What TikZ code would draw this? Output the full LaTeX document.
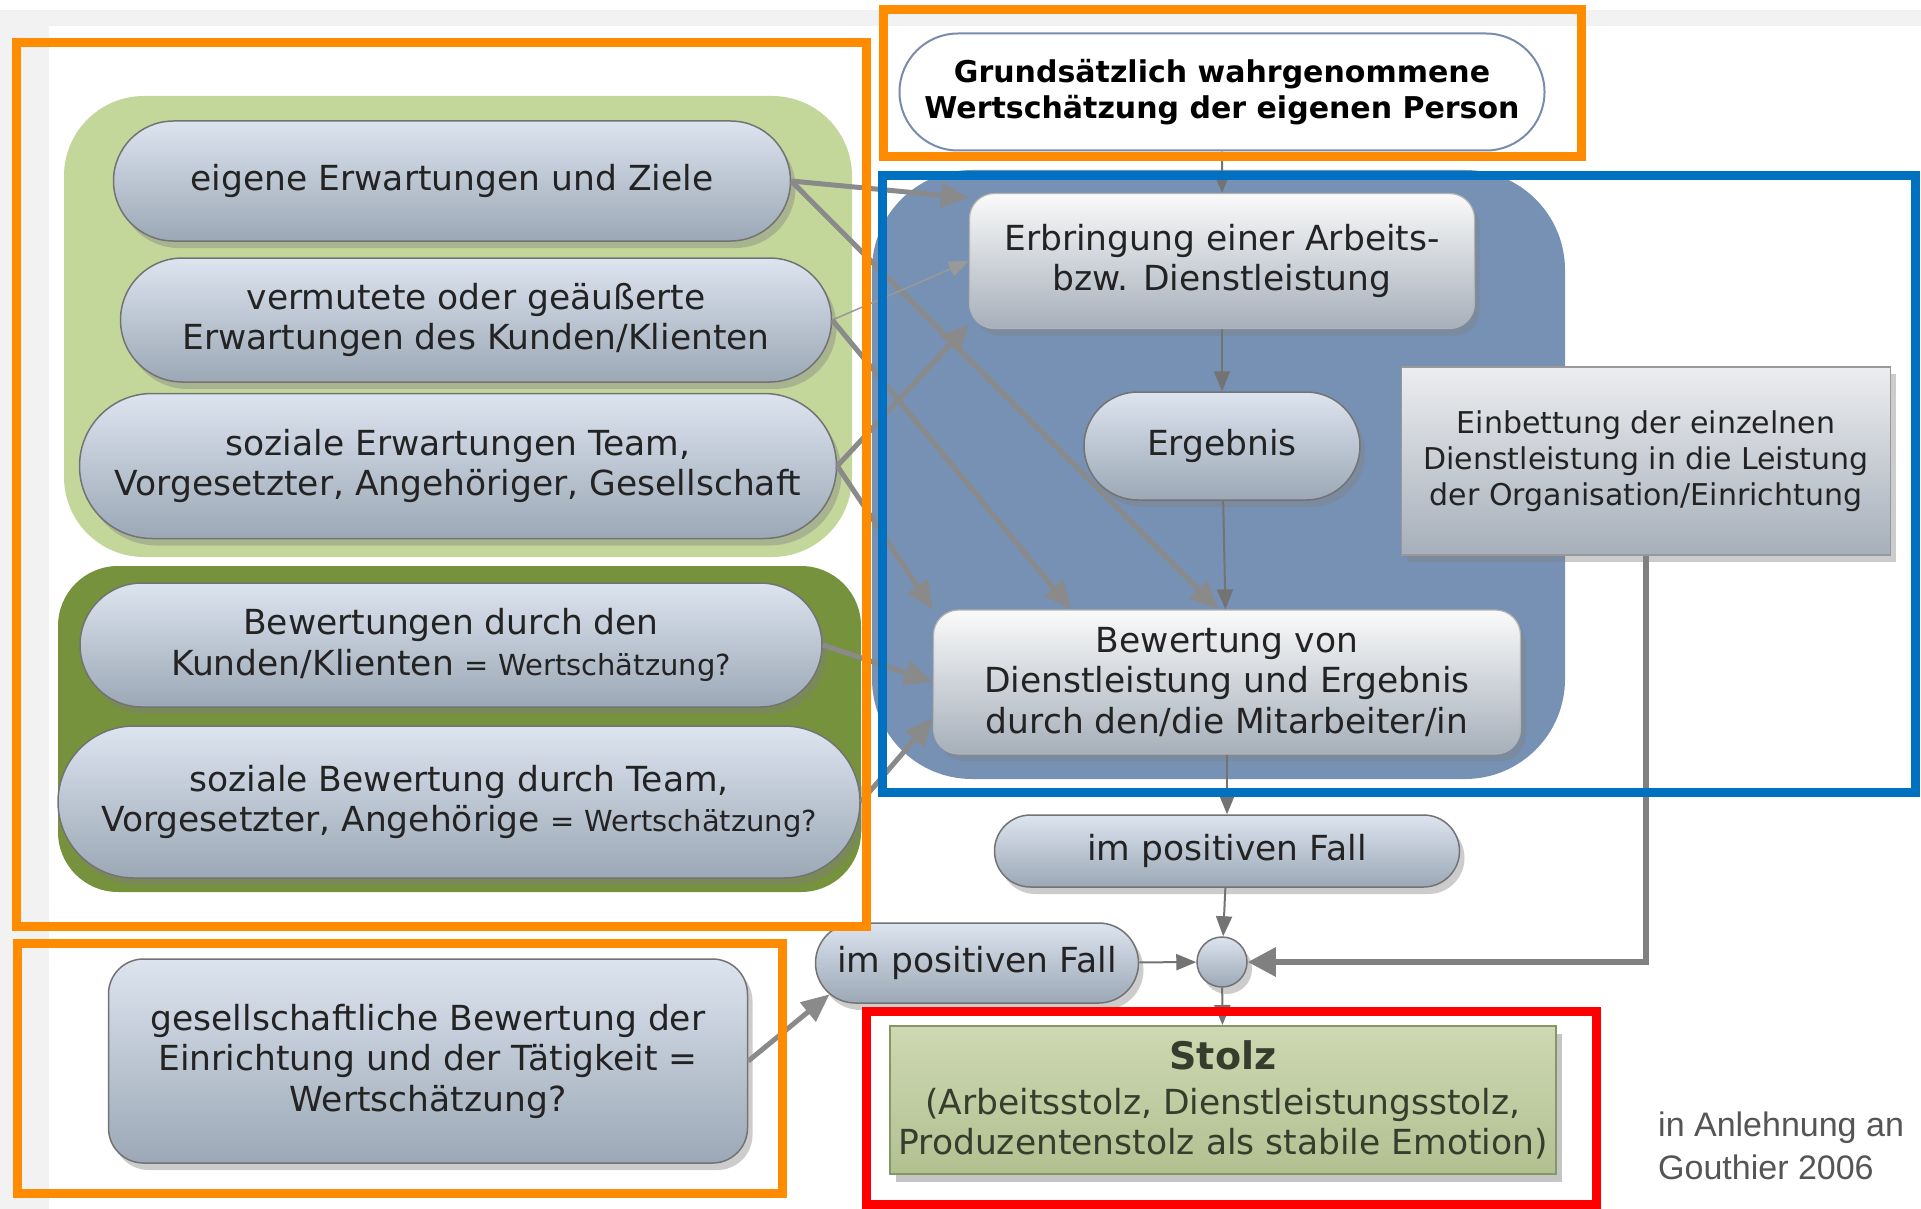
\documentclass[tikz,border=0pt]{standalone}
\usepackage{fontspec}
\setmainfont{DejaVu Sans}
\newfontfamily\srcfont{Liberation Sans}
\usetikzlibrary{shapes.misc,shadows,arrows.meta}

\definecolor{frameorange}{RGB}{255,140,0}
\definecolor{frameblue}{RGB}{0,112,192}
\definecolor{canvasgray}{RGB}{242,242,242}
\definecolor{lightgreen}{RGB}{196,215,155}
\definecolor{darkgreen}{RGB}{118,146,60}
\definecolor{steelbg}{RGB}{118,145,180}
\definecolor{pilltop}{RGB}{220,228,239}
\definecolor{pillbot}{RGB}{156,168,182}
\definecolor{boxtop}{RGB}{250,250,250}
\definecolor{boxbot}{RGB}{166,175,186}
\definecolor{stolztop}{RGB}{206,216,178}
\definecolor{stolzbot}{RGB}{178,192,145}
\definecolor{arrowgray}{RGB}{138,138,138}
\definecolor{txt}{RGB}{35,35,35}
\definecolor{srcgray}{RGB}{85,85,85}

\newcommand{\diagfont}{\fontsize{34.5}{40.5}\selectfont}
\newcommand{\queryfont}{\fontsize{29}{40.5}\selectfont}

\begin{document}
\begin{tikzpicture}[x=1pt,y=-1pt,
		every node/.style={text=txt,align=center,inner sep=0pt,font=\diagfont},
		pill/.style={rounded rectangle,draw=black!55,line width=1.5pt,top color=pilltop,bottom color=pillbot,
			drop shadow={shadow xshift=5pt,shadow yshift=-7pt,opacity=.4}},
		box/.style={rectangle,rounded corners=25pt,draw=black!30,line width=1.2pt,top color=boxtop,bottom color=boxbot,
			drop shadow={shadow xshift=5pt,shadow yshift=-7pt,opacity=.4}},
		heavy/.style={draw=arrowgray,line width=5pt,-{Triangle[length=28pt,width=24pt]}},
		light/.style={draw=black!55,line width=2pt,-{Triangle[length=20pt,width=16pt]}},
		frame/.style={line width=9pt}]
	\useasboundingbox (0,0) rectangle (1921,1209);
	% page
	\fill[canvasgray] (0,10) rectangle (1921,1209);
	\fill[white] (49,26) rectangle (1921,1209);
	% group backgrounds
	\fill[lightgreen,rounded corners=80pt] (64,96) rectangle (852,557);
	\fill[darkgreen,rounded corners=60pt] (58,566) rectangle (861,892);
	\fill[steelbg,rounded corners=100pt] (872,170) rectangle (1565,779);

	% expectations and ratings
	\node[pill,minimum width=677pt,minimum height=120pt] (ziele) at (452,181) {eigene Erwartungen und Ziele};
	\node[pill,minimum width=711pt,minimum height=124pt] (kunde) at (476,320) {vermutete oder geäußerte\\Erwartungen des Kunden/Klienten};
	\node[pill,minimum width=757pt,minimum height=145pt] (sozial) at (458,466) {soziale Erwartungen Team,\\Vorgesetzter, Angehöriger, Gesellschaft};
	\node[pill,minimum width=742pt,minimum height=124pt] (klient) at (451,645) {Bewertungen durch den\\Kunden/Klienten {\queryfont = Wertschätzung?}};
	\node[pill,minimum width=802pt,minimum height=152pt] (team) at (459,802) {soziale Bewertung durch Team,\\Vorgesetzter, Angehörige {\queryfont = Wertschätzung?}};
	\node[pill,rounded rectangle=false,rectangle,rounded corners=35pt,minimum width=639pt,minimum height=204pt] (gesell) at (428,1061)
		{gesellschaftliche Bewertung der\\Einrichtung und der Tätigkeit =\\Wertschätzung?};

	% main chain
	\node[rounded rectangle,draw={rgb,255:red,120;green,140;blue,175},line width=2pt,fill=white,text=black,
		minimum width=645pt,minimum height=117pt,font=\bfseries\fontsize{30}{36}\selectfont] (grund) at (1222,92)
		{Grundsätzlich wahrgenommene\\Wertschätzung der eigenen Person};
	\node[box,minimum width=505pt,minimum height=135pt] (erbr) at (1222,261) {Erbringung einer Arbeits-\\bzw. Dienstleistung};
	\node[pill,minimum width=276pt,minimum height=108pt] (ergeb) at (1222,446) {Ergebnis};
	\node[box,rounded corners=0pt,top color={rgb,255:red,236;green,237;blue,239},draw=black!40,minimum width=489pt,minimum height=188pt,
		font=\fontsize{30}{36}\selectfont] (einbett) at (1646,461)
		{Einbettung der einzelnen\\Dienstleistung in die Leistung\\der Organisation/Einrichtung};
	\node[box,minimum width=587pt,minimum height=144pt] (bewert) at (1227,682) {Bewertung von\\Dienstleistung und Ergebnis\\durch den/die Mitarbeiter/in};
	\node[pill,minimum width=465pt,minimum height=72pt] (posA) at (1227,851) {im positiven Fall};
	\node[pill,minimum width=323pt,minimum height=80pt] (posB) at (977,963) {im positiven Fall};
	\node[pill,circle,minimum size=50pt] (knoten) at (1222,962) {};
	\node[rectangle,draw={rgb,255:red,135;green,150;blue,100},line width=2pt,top color=stolztop,bottom color=stolzbot,
		text={rgb,255:red,55;green,60;blue,45},minimum width=666pt,minimum height=148pt,
		drop shadow={shadow xshift=6pt,shadow yshift=-8pt,opacity=.45}] (stolz) at (1223,1100)
		{{\bfseries\fontsize{38}{45}\selectfont Stolz}\\[4pt](Arbeitsstolz, Dienstleistungsstolz,\\Produzentenstolz als stabile Emotion)};

	\node[anchor=west,align=left,text=srcgray,font=\srcfont\fontsize{34}{43}\selectfont] (quelle) at (1658,1146) {in Anlehnung an\\Gouthier 2006};

	% arrows
	\draw[light] (grund) -- (erbr);
	\draw[light] (erbr) -- (ergeb);
	\draw[light] (ergeb) -- (bewert);
	\draw[light] (bewert) -- (posA);
	\draw[light] (posA) -- (knoten);
	\draw[light] (knoten) -- (stolz);
	\draw[light] (posB) -- (knoten);
	\draw[heavy,draw={rgb,255:red,128;green,128;blue,128},line width=6pt,-{Triangle[length=28pt,width=28pt]}] (einbett.south) |- (knoten.east);
	\draw[heavy] (gesell.east) -- (posB.192);
	\draw[heavy] (ziele.east) -- (erbr.166);
	\draw[heavy] (ziele.east) -- (bewert.97);
	\draw[light,draw=black!40,line width=1.5pt] (kunde.east) -- (erbr.west);
	\draw[heavy] (kunde.east) -- (bewert.155);
	\draw[heavy] (sozial.east) -- (erbr.194);
	\draw[heavy] (sozial.east) -- (bewert.north west);
	\draw[heavy] (klient.east) -- (bewert.west);
	\draw[heavy] (team.east) -- (bewert.187);

	% highlight frames
	\draw[frameorange,frame] (16,43) rectangle (866,926);
	\draw[frameorange,frame] (17,943) rectangle (782,1193);
	\draw[frameorange,frame] (883,10) rectangle (1581,157);
	\draw[frameblue,frame] (882,176) rectangle (1915,792);
	\draw[red,frame] (866,1011) rectangle (1596,1204);
\end{tikzpicture}
\end{document}
